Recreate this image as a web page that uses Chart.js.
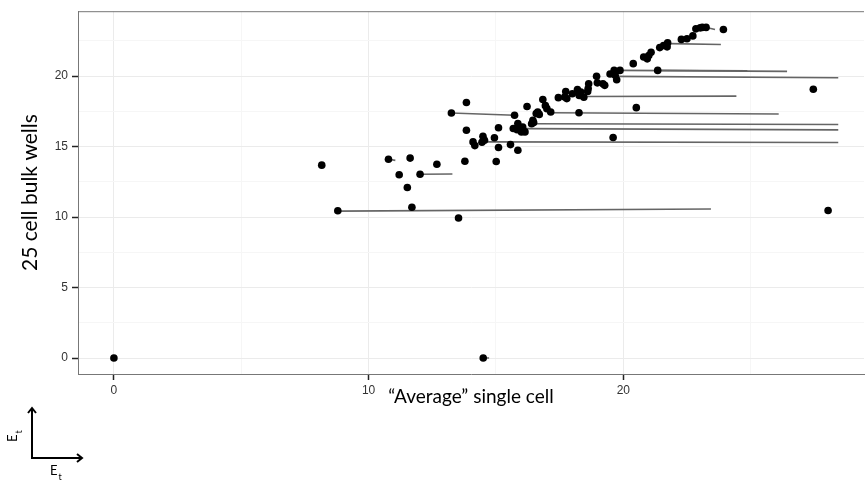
<!DOCTYPE html>
<html>
<head>
<meta charset="utf-8">
<script src="https://cdn.jsdelivr.net/npm/chart.js@4.4.0/dist/chart.umd.min.js"></script>
<style>
  html, body { margin: 0; padding: 0; background: #fff; }
  #wrap { width: 868px; height: 482px; }
</style>
</head>
<body>
<div id="wrap"><canvas id="etChart" width="868" height="482"></canvas></div>
<script>
// Et values: x = "average" single cell, y = 25 cell bulk wells
const singleCellX = [0, 14.5, 8.16, 8.79, 11.7, 13.53, 28.04, 27.46, 19.6, 20.51,
  10.78, 11.63, 11.2, 12.02, 11.52, 12.68, 13.78, 15.01, 13.25, 13.84,
  13.84, 14.1, 14.17, 14.49, 14.55, 14.45, 14.94, 15.1, 15.1, 15.57,
  15.86, 15.73, 15.68, 15.86, 15.83, 16.05, 16.0, 16.14, 16.22, 16.4,
  16.45, 16.48, 16.58, 16.64, 16.7, 16.84, 16.94, 17.0, 17.15, 17.45,
  17.7, 17.74, 17.78, 18.0, 18.2, 18.33, 18.27, 18.45, 18.26, 18.64,
  18.62, 18.6, 18.95, 18.98, 19.2, 19.27, 19.48, 19.64, 19.68, 19.74,
  19.87, 20.39, 21.35, 20.8, 20.94, 21.0, 21.09, 21.43, 21.58, 21.74,
  21.72, 22.28, 22.5, 22.73, 22.85, 23.02, 23.1, 23.25, 23.93];
const bulkWellY = [0, 0, 13.68, 10.45, 10.7, 9.93, 10.47, 19.06, 15.64, 17.76,
  14.1, 14.18, 13.0, 13.04, 12.1, 13.75, 13.96, 13.94, 17.38, 18.12,
  16.16, 15.33, 15.07, 15.73, 15.45, 15.31, 15.62, 16.33, 14.93, 15.14,
  14.74, 17.22, 16.28, 16.63, 16.2, 16.39, 16.04, 16.04, 17.84, 16.62,
  16.87, 16.7, 17.34, 17.45, 17.28, 18.34, 17.9, 17.69, 17.45, 18.47,
  18.51, 18.9, 18.4, 18.75, 19.05, 18.87, 18.63, 18.5, 17.4, 19.46,
  19.12, 18.9, 19.98, 19.52, 19.46, 19.34, 20.15, 20.4, 20.05, 19.74,
  20.4, 20.88, 20.4, 21.35, 21.22, 21.46, 21.68, 22.02, 22.17, 22.36,
  22.07, 22.6, 22.65, 22.85, 23.35, 23.42, 23.45, 23.45, 23.3];

// grey segments (start -> end)
const segStartX = [8.79, 10.78, 12.02, 13.25, 14.5, 14.45, 16.1, 16.45, 17.15, 18.45, 19.63, 19.87, 21.35, 21.84, 23.27];
const segStartY = [10.42, 14.1, 13.04, 17.38, 0, 15.33, 16.27, 16.62, 17.4, 18.55, 19.98, 20.4, 20.4, 22.3, 23.45];
const segEndX = [23.44, 11.05, 13.29, 15.73, 14.73, 28.44, 28.44, 28.44, 26.1, 24.44, 28.44, 26.43, 24.87, 23.83, 23.6];
const segEndY = [10.57, 14.02, 13.05, 17.22, 0, 15.29, 16.18, 16.57, 17.31, 18.58, 19.88, 20.33, 20.38, 22.24, 23.3];

const xMajorTicks = [0, 10, 20];
const xMinorTicks = [5, 15, 25];
const yMajorTicks = [0, 5, 10, 15, 20];
const yMinorTicks = [2.5, 7.5, 12.5, 17.5, 22.5];

const titleFont = 'Lato, "Liberation Sans", sans-serif';
const tickFont = '"Liberation Sans", Arial, sans-serif';

const points = singleCellX.map((x, i) => ({ x: x, y: bulkWellY[i] }));

const datasets = [{
  label: 'wells',
  data: points,
  backgroundColor: '#000',
  borderWidth: 0,
  pointRadius: 3.8
}];

segStartX.forEach((x, i) => {
  datasets.push({
    label: 'seg' + i,
    data: [{ x: x, y: segStartY[i] }, { x: segEndX[i], y: segEndY[i] }],
    showLine: true,
    borderColor: '#656565',
    borderWidth: 1.6,
    pointRadius: 0
  });
});

function setTicks(major, minor) {
  return function (scale) {
    scale.ticks = major.concat(minor).sort((a, b) => a - b).map(v => ({ value: v }));
  };
}

// top border + the little Et arrows in the corner
const extras = {
  id: 'extras',
  afterDraw(chart) {
    const ctx = chart.ctx;
    const a = chart.chartArea;
    ctx.save();
    ctx.strokeStyle = '#777';
    ctx.lineWidth = 1;
    ctx.beginPath();
    ctx.moveTo(a.left, a.top + 0.5);
    ctx.lineTo(a.right, a.top + 0.5);
    ctx.stroke();

    ctx.strokeStyle = '#000';
    ctx.lineWidth = 2;
    ctx.beginPath();
    ctx.moveTo(32, 408);
    ctx.lineTo(32, 458);
    ctx.lineTo(82, 458);
    ctx.stroke();
    ctx.beginPath();
    ctx.moveTo(28, 413); ctx.lineTo(32, 408); ctx.lineTo(36, 413);
    ctx.moveTo(77, 454); ctx.lineTo(82, 458); ctx.lineTo(77, 462);
    ctx.stroke();

    ctx.fillStyle = '#000';
    ctx.textBaseline = 'alphabetic';
    ctx.font = '13px ' + titleFont;
    ctx.fillText('E', 50, 475);
    ctx.font = '9px ' + titleFont;
    ctx.fillText('t', 58.5, 480);

    ctx.translate(17, 442);
    ctx.rotate(-Math.PI / 2);
    ctx.font = '13px ' + titleFont;
    ctx.fillText('E', 0, 0);
    ctx.font = '9px ' + titleFont;
    ctx.fillText('t', 8.5, 5);
    ctx.restore();
  }
};

new Chart(document.getElementById('etChart'), {
  type: 'scatter',
  data: { datasets: datasets },
  plugins: [extras],
  options: {
    responsive: false,
    animation: false,
    layout: { padding: { top: 11, right: 0, bottom: 0, left: 0 } },
    plugins: {
      legend: { display: false },
      tooltip: { enabled: false }
    },
    scales: {
      x: {
        type: 'linear',
        min: -1.41,
        max: 29.45,
        afterBuildTicks: setTicks(xMajorTicks, xMinorTicks),
        afterFit: function (scale) { scale.height = 108; },
        grid: {
          color: ctx => xMajorTicks.includes(ctx.tick.value) ? '#ebebeb' : '#f6f6f6',
          tickColor: ctx => xMajorTicks.includes(ctx.tick.value) ? '#222' : 'rgba(0,0,0,0)',
          tickLength: 6,
          tickWidth: 1.5
        },
        border: { display: true, color: '#777', width: 1 },
        ticks: {
          autoSkip: false,
          maxRotation: 0,
          padding: 3,
          color: '#333',
          font: { family: tickFont, size: 12 },
          callback: v => xMajorTicks.includes(v) ? String(v) : ''
        },
        title: {
          display: true,
          text: '\u201cAverage\u201d single cell',
          color: '#000',
          font: { family: titleFont, size: 19 },
          padding: { top: 0, bottom: 74 }
        }
      },
      y: {
        type: 'linear',
        min: -1.13,
        max: 24.6,
        afterBuildTicks: setTicks(yMajorTicks, yMinorTicks),
        afterFit: function (scale) { scale.width = 78; },
        grid: {
          color: ctx => yMajorTicks.includes(ctx.tick.value) ? '#ebebeb' : '#f6f6f6',
          tickColor: ctx => yMajorTicks.includes(ctx.tick.value) ? '#222' : 'rgba(0,0,0,0)',
          tickLength: 6,
          tickWidth: 1.5
        },
        border: { display: true, color: '#777', width: 1 },
        ticks: {
          autoSkip: false,
          padding: 4,
          color: '#333',
          font: { family: tickFont, size: 12 },
          callback: v => yMajorTicks.includes(v) ? String(v) : ''
        },
        title: {
          display: true,
          text: '25 cell bulk wells',
          color: '#000',
          font: { family: titleFont, size: 21 },
          padding: { top: 18, bottom: 0 }
        }
      }
    }
  }
});
</script>
</body>
</html>
